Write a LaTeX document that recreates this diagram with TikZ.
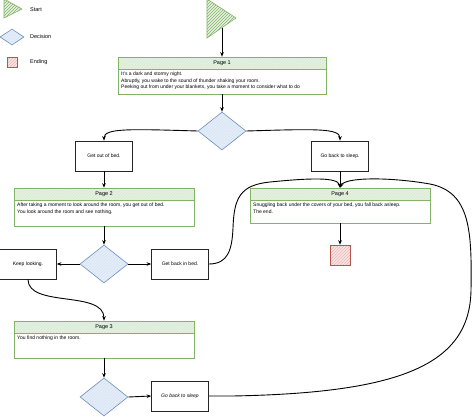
\documentclass[tikz,border=0pt]{standalone}
\usepackage{fontspec}
\setmainfont{Liberation Sans}
\usetikzlibrary{patterns,arrows.meta,shapes.geometric}
\definecolor{gline}{HTML}{82B366}
\definecolor{gfill}{HTML}{E6F1E2}
\definecolor{bline}{HTML}{6C8EBF}
\definecolor{bfill}{HTML}{E4EEFB}
\definecolor{rline}{HTML}{B85450}
\definecolor{rfill}{HTML}{FBE3E2}
\begin{document}
\begin{tikzpicture}[x=1pt,y=-1pt,
  hdr/.style={draw=gline, line width=0.6pt, preaction={fill=gfill}, pattern=north east lines, pattern color=gline!30, minimum height=12pt, inner sep=0pt, font=\fontsize{5.5}{6}\selectfont},
  body/.style={draw=gline, line width=0.6pt, inner sep=0pt},
  btxt/.style={anchor=north west, align=left, inner sep=0pt, font=\fontsize{5}{6.8}\selectfont},
  dec/.style={draw=bline, line width=0.6pt, preaction={fill=bfill}, pattern=north east lines, pattern color=bline!25, diamond, minimum width=48pt, minimum height=38pt, inner sep=0pt},
  endbox/.style={draw=rline, line width=0.6pt, preaction={fill=rfill}, pattern=north east lines, pattern color=rline!40, inner sep=0pt},
  startt/.style={draw=gline, line width=0.6pt, preaction={fill=gfill}, pattern=north east lines, pattern color=gline},
  act/.style={draw=black!85, line width=0.7pt, minimum width=57pt, minimum height=30pt, inner sep=0pt, font=\fontsize{5}{6}\selectfont},
  arr/.style={-{Stealth[length=4.5pt,width=3.6pt]}, line width=0.9pt},
  lgd/.style={anchor=west, inner sep=0pt, font=\fontsize{5.5}{6}\selectfont}
]
\useasboundingbox (0,0) rectangle (474,416);

% legend
\path[startt] (4,-1) -- (4,18) -- (22,9) -- cycle;
\node[lgd] (lgs) at (30,10) {Start};
\node[dec, minimum width=24pt, minimum height=16pt] (lgd) at (12,37) {};
\node[lgd] (lgdt) at (30,37) {Decision};
\node[endbox, minimum width=10pt, minimum height=10pt] (lge) at (12,62) {};
\node[lgd] (lget) at (30,62) {Ending};

% start
\path[startt] (207,-1) -- (207,38) -- (236,18) -- cycle;
\coordinate (st) at (222,28);

% page 1
\node[hdr, minimum width=208pt] (p1h) at (222,63) {Page 1};
\node[body, minimum width=208pt, minimum height=25pt] (p1b) at (222,81.5) {};
\node[btxt] (p1t) at (121,71.5) {It's a dark and stormy night.\\Abruptly, you wake to the sound of thunder shaking your room.\\Peeking out from under your blankets, you take a moment to consider what to do};

\node[dec] (d1) at (222,131) {};
\node[act] (gob) at (104,156) {Get out of bed.};
\node[act] (gbs) at (340,156) {Go back to sleep.};

% page 2
\node[hdr, minimum width=180pt] (p2h) at (104,194) {Page 2};
\node[body, minimum width=180pt, minimum height=26pt] (p2b) at (104,213) {};
\node[btxt] (p2t) at (17,202.5) {After taking a moment to look around the room, you get out of bed.\\You look around the room and see nothing.};

% page 4
\node[hdr, minimum width=180pt] (p4h) at (340,194) {Page 4};
\node[body, minimum width=180pt, minimum height=23pt] (p4b) at (340,211.5) {};
\node[btxt] (p4t) at (253,202.5) {Snuggling back under the covers of your bed, you fall back asleep.\\The end.};
\node[endbox, minimum width=20pt, minimum height=20pt] (end) at (340,255) {};

\node[dec] (d2) at (104,264) {};
\node[act] (kl) at (28,264) {Keep looking.};
\node[act] (gbb) at (180,264) {Get back in bed.};

% page 3
\node[hdr, minimum width=180pt] (p3h) at (104,327) {Page 3};
\node[body, minimum width=180pt, minimum height=25pt] (p3b) at (104,345.5) {};
\node[btxt] (p3t) at (17,335.5) {You find nothing in the room.};

\node[dec] (d3) at (104,397) {};
\node[act] (gbs2) at (180,396) {\itshape Go back to sleep};

% connectors
\draw[arr] (st) -- (p1h.north);
\draw[arr] (p1b.south) -- (d1.north);
\draw[arr] (d1.west) .. controls (130,129) and (104,128) .. (gob.north);
\draw[arr] (d1.east) .. controls (314,129) and (340,128) .. (gbs.north);
\draw[arr] (gob.south) -- (p2h.north);
\draw[arr] (gbs.south) -- (p4h.north);
\draw[arr] (p2b.south) -- (d2.north);
\draw[arr] (d2.west) -- (kl.east);
\draw[arr] (d2.east) -- (gbb.west);
\draw[arr] (p4b.south) -- (end.north);
\draw[arr] (gbb.east) .. controls (228,264) and (232,250) .. (233,228)
  .. controls (234,198) and (240,185) .. (270,182)
  .. controls (310,178) and (338,177) .. (p4h.north);
\draw[arr] (kl.south) .. controls (28,308) and (104,290) .. (p3h.north);
\draw[arr] (p3b.south) -- (d3.north);
\draw[arr] (d3.east) -- (gbs2.west);
\draw[arr] (gbs2.east) -- (232,396) .. controls (400,393) and (470,365) .. (471,290)
  .. controls (472,230) and (470,192) .. (430,184)
  .. controls (390,177) and (345,177) .. (p4h.north);
\end{tikzpicture}
\end{document}
